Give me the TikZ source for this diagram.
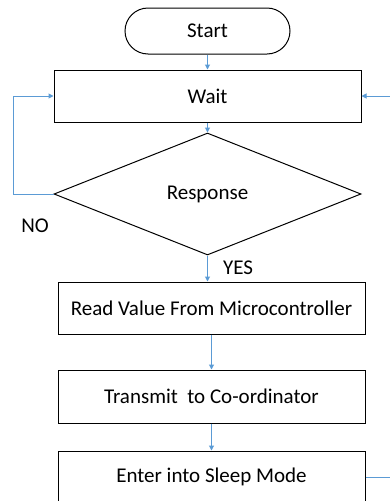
\documentclass[tikz,border=0pt]{standalone}
\usepackage{fontspec}
\setmainfont{Carlito}
\usetikzlibrary{shapes.geometric,arrows.meta}
\definecolor{flowblue}{HTML}{5B9BD5}
\tikzset{
	box/.style={draw=black, line width=1pt, minimum width=307pt, minimum height=52pt, inner sep=0pt},
	term/.style={box, rounded corners=23pt, minimum width=165pt, minimum height=46pt},
	decide/.style={diamond, draw=black, line width=1pt, minimum width=307pt, minimum height=122pt, inner sep=0pt},
	flow/.style={draw=flowblue, line width=1pt, -{Triangle[length=5pt,width=5pt]}}
}
\begin{document}
\begin{tikzpicture}[x=1pt, y=-1pt, font=\fontsize{21}{25}\selectfont]
	\useasboundingbox (0,0) rectangle (390,501);
	% Steps
	\node [term] (start) at (207.5,31) {Start};
	\node [box] (wait) at (207.5,96) {Wait};
	\node [decide] (resp) at (207.5,194) {Response};
	\node [box] (read) at (211.5,308) {Read Value From Microcontroller};
	\node [box, minimum height=53pt] (trans) at (211.5,396.5) {Transmit~ to Co-ordinator};
	\node [box] (sleep) at (211.5,477) {Enter into Sleep Mode};
	% Labels
	\node (nolbl) at (35,226) {NO};
	\node (yeslbl) at (238,268) {YES};
	% Straight down
	\foreach \a/\b in {start/wait, wait/resp, read/trans, trans/sleep} {
		\draw [flow] (\a.south) -- (\a.south |- \b.north);
	}
	\draw [flow] (resp.south) -- (resp.south |- read.north);
	% Loops back to Wait
	\draw [flow] (resp.west) -- ++(-40,0) |- (wait.west);
	\draw [flow] (sleep.east) -- ++(45,0) |- (wait.east);
\end{tikzpicture}
\end{document}
